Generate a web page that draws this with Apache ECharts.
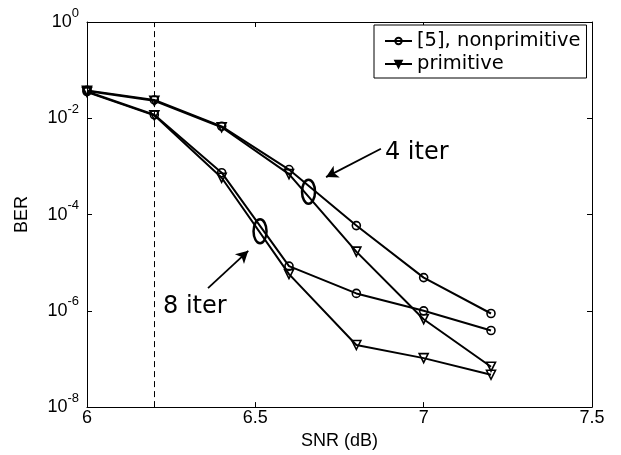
<!DOCTYPE html>
<html><head><meta charset="utf-8">
<script src="https://cdn.jsdelivr.net/npm/echarts@6/dist/echarts.min.js"></script>
<style>html,body{margin:0;padding:0;background:#fff}#c{width:621px;height:455px}</style>
</head><body><div id="c"></div>
<script>
// ---- data ----
const snr = [6.0, 6.2, 6.4, 6.6, 6.8, 7.0, 7.2];
const nonprim4 = [0.038, 0.024, 0.0068, 8.6e-4, 5.9e-5, 4.9e-6, 8.8e-7];
const prim4    = [0.037, 0.023, 0.0065, 6.9e-4, 1.7e-5, 6.7e-7, 6.9e-8];
const nonprim8 = [0.036, 0.0118, 7.4e-4, 8.5e-6, 2.3e-6, 1.0e-6, 3.9e-7];
const prim8    = [0.035, 0.0115, 5.8e-4, 5.8e-6, 1.95e-7, 1.04e-7, 4.7e-8];
const xTickLabels = ['6', '6.5', '7', '7.5'];
const yTickExponents = [0, -2, -4, -6, -8];
const legendNames = ['[5], nonprimitive', 'primitive'];
const thresholdSNR = 6.2;
// annotation anchors (data coordinates)
const note4 = { text: '4 iter', at: [6.885, 1.93e-3], ring: [6.658, 2.99e-4], from: [6.873, 2.33e-3], to: [6.710, 6.0e-4] };
const note8 = { text: '8 iter', at: [6.2257, 1.22e-6], ring: [6.514, 4.49e-5], from: [6.3594, 2.96e-6], to: [6.479, 1.76e-5] };

const FONT = '"Liberation Sans", Arial, sans-serif';
const FONT2 = '"DejaVu Sans", sans-serif';

function mk(name, vals, sym, extra) {
  return Object.assign({
    type: 'line', name: name,
    data: snr.map((x, i) => [x, vals[i]]),
    symbol: sym, symbolSize: sym === 'circle' ? 8 : 9,
    symbolRotate: sym === 'triangle' ? 180 : 0,
    lineStyle: { color: '#000', width: 2 },
    itemStyle: { color: 'rgba(0,0,0,0)', borderColor: '#000', borderWidth: 1.6 },
    emphasis: { disabled: true },
    animation: false, z: 3
  }, extra || {});
}

const chart = echarts.init(document.getElementById('c'), null, { renderer: 'canvas' });
const axisLine = { show: true, lineStyle: { color: '#000', width: 1 } };
const tick = { show: true, inside: true, length: 5, lineStyle: { color: '#000', width: 1 } };

chart.setOption({
  animation: false,
  backgroundColor: '#fff',
  grid: { left: 87, right: 29, top: 22, bottom: 38, containLabel: false },
  legend: {
    left: 374, top: 25, orient: 'vertical',
    data: [{ name: legendNames[0] }, { name: legendNames[1], itemStyle: { color: '#000' } }],
    itemWidth: 27, itemHeight: 8, itemGap: 3,
    padding: [6, 6, 4, 10],
    borderColor: '#000', borderWidth: 1, backgroundColor: '#fff',
    textStyle: { fontFamily: FONT2, fontSize: 19.5, color: '#000' },
    selectedMode: false
  },
  xAxis: [{
    type: 'value', min: 6, max: 7.5, interval: 0.5,
    name: 'SNR (dB)', nameLocation: 'middle', nameGap: 21,
    nameTextStyle: { fontFamily: FONT, fontSize: 18, color: '#000' },
    axisLine: axisLine, axisTick: tick, splitLine: { show: false },
    axisLabel: { margin: 2, fontFamily: FONT, fontSize: 18, color: '#000',
      formatter: v => xTickLabels[Math.round((v - 6) / 0.5)] }
  }, {
    type: 'value', min: 6, max: 7.5, interval: 0.5, position: 'top',
    axisLine: axisLine, axisTick: tick, splitLine: { show: false }, axisLabel: { show: false }
  }],
  yAxis: [{
    type: 'log', logBase: 10, min: 1e-8, max: 1, interval: 2,
    name: 'BER', nameLocation: 'middle', nameGap: 56,
    nameTextStyle: { fontFamily: FONT, fontSize: 18, color: '#000' },
    axisLine: axisLine, axisTick: tick, splitLine: { show: false }, minorTick: { show: false },
    axisLabel: {
      margin: 8, fontFamily: FONT,
      formatter: v => {
        const e = Math.round(Math.log10(v));
        return yTickExponents.indexOf(e) >= 0 ? '{b|10}{s|' + e + '}' : '';
      },
      rich: {
        b: { fontFamily: FONT, fontSize: 18, lineHeight: 18, color: '#000' },
        s: { fontFamily: FONT, fontSize: 13, lineHeight: 13, color: '#000', padding: [0, 0, 18, 0] }
      }
    }
  }, {
    type: 'log', logBase: 10, min: 1e-8, max: 1, interval: 2, position: 'right',
    axisLine: axisLine, axisTick: tick, splitLine: { show: false }, axisLabel: { show: false }
  }],
  series: [
    mk(legendNames[0], nonprim4, 'circle', {
      markLine: {
        silent: true, symbol: 'none', animation: false,
        label: { show: false },
        lineStyle: { color: '#000', width: 1, type: [6, 4] },
        data: [{ xAxis: thresholdSNR }]
      }
    }),
    mk(legendNames[1], prim4, 'triangle', {
      markLine: {
        silent: true, symbol: ['none', 'arrow'], symbolSize: [10, 12], animation: false,
        label: { show: false },
        lineStyle: { color: '#000', width: 1.8, type: 'solid' },
        itemStyle: { color: '#000' },
        data: [
          [{ coord: note4.from }, { coord: note4.to }],
          [{ coord: note8.from }, { coord: note8.to }]
        ]
      }
    }),
    mk(legendNames[0], nonprim8, 'circle'),
    mk(legendNames[1], prim8, 'triangle')
  ]
});

const px = p => chart.convertToPixel({ seriesIndex: 0 }, p);
const graphics = [];
[note4, note8].forEach(n => {
  const r = px(n.ring), t = px(n.at);
  graphics.push({ type: 'ellipse', shape: { cx: r[0], cy: r[1], rx: 6.5, ry: 12 },
    style: { fill: 'none', stroke: '#000', lineWidth: 2.5 }, z: 10 });
  graphics.push({ type: 'text', x: t[0], y: t[1],
    style: { text: n.text, fontFamily: FONT2, fontSize: 24, fill: '#000', align: 'left', verticalAlign: 'middle' }, z: 10 });
});
chart.setOption({ graphic: graphics });
</script></body></html>
